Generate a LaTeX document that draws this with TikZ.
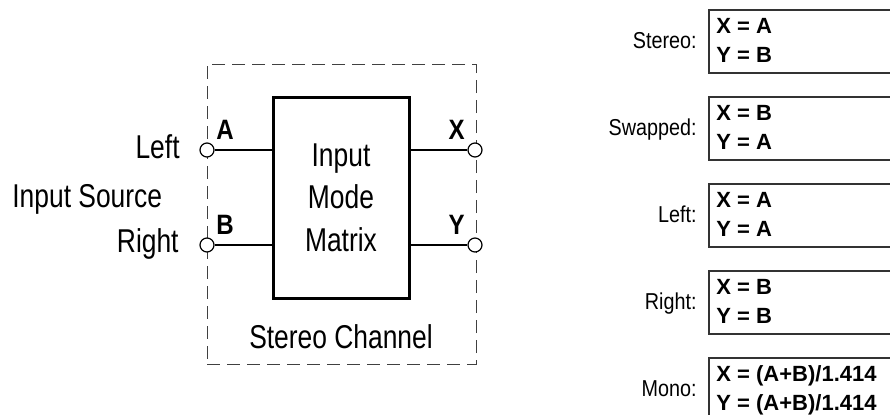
\documentclass[tikz,border=0pt]{standalone}
\usepackage{fontspec}
\setmainfont{Liberation Sans}
\newfontfamily\condfont[FakeStretch=0.8]{Liberation Sans}
\newfontfamily\lblfont[FakeStretch=0.86]{Liberation Sans}
\usetikzlibrary{positioning}

\begin{document}
\begin{tikzpicture}[
  x=0.5pt, y=-0.5pt,
  big/.style={font=\condfont\fontsize{16.5}{21.25}\selectfont, inner sep=0pt},
  small/.style={font=\lblfont\fontsize{11.5}{14}\selectfont, inner sep=0pt},
  pinlab/.style={font=\lblfont\bfseries\fontsize{14}{16}\selectfont, inner sep=0pt},
  chanbox/.style={draw=black!75, dash pattern=on 6.5pt off 3.5pt, line width=0.5pt,
                  minimum width=134.5pt, minimum height=150pt, inner sep=0pt},
  matbox/.style={big, draw, line width=1.5pt, minimum width=68pt,
                 minimum height=100.5pt, align=center},
  term/.style={circle, draw, fill=white, line width=0.6pt, minimum size=7pt, inner sep=0pt},
  wire/.style={line width=0.75pt},
  modebox/.style={draw=black!80, line width=0.75pt, anchor=north west,
                  minimum width=120pt, minimum height=31.5pt, inner sep=0pt},
  eqn/.style={font=\bfseries\fontsize{11}{13}\selectfont, inner sep=0pt, anchor=base west}]
\useasboundingbox (0,0) rectangle (890,414);
\clip (0,0) rectangle (890,414);
% stereo channel block
\node[chanbox] (chan) at (341.5,214) {};
\node[matbox] (mat) at (341,197.5) {Input\\Mode\\Matrix};
\node[big, anchor=base] (chanlab) at (341,348) {Stereo Channel};
\node[term] (inA) at (207,150) {};
\node[term] (inB) at (207,245) {};
\node[term] (outX) at (475,150) {};
\node[term] (outY) at (475,245) {};
\draw[wire] (inA.east) -- (inA -| mat.west);
\draw[wire] (inB.east) -- (inB -| mat.west);
\draw[wire] (mat.east |- outX) -- (outX.west);
\draw[wire] (mat.east |- outY) -- (outY.west);
\node[pinlab, anchor=base west] (labA) at (216,139) {A};
\node[pinlab, anchor=base west] (labB) at (216,234) {B};
\node[pinlab, anchor=base east] (labX) at (465,139) {X};
\node[pinlab, anchor=base east] (labY) at (465,234) {Y};
% input source
\node[big, anchor=base east] (left) at (180,158) {Left};
\node[big, anchor=base east] (right) at (179,252) {Right};
\node[big, anchor=base west] (src) at (12,207) {Input Source};
% input modes
\foreach \lab/\xe/\ye [count=\i from 0] in
    {Stereo:/A/B, Swapped:/B/A, Left:/A/A, Right:/B/B,
     Mono:/{(A+B)/1.414}/{(A+B)/1.414}}{
  \node[modebox] (mode\i) at (708,{9+87*\i}) {};
  \node[small, anchor=base east] (mlab\i) at (697,{48+87*\i}) {\lab};
  \node[eqn] (eqx\i) at (716,{33+87*\i}) {X = \xe};
  \node[eqn] (eqy\i) at (716,{62+87*\i}) {Y = \ye};
}
\end{tikzpicture}
\end{document}
